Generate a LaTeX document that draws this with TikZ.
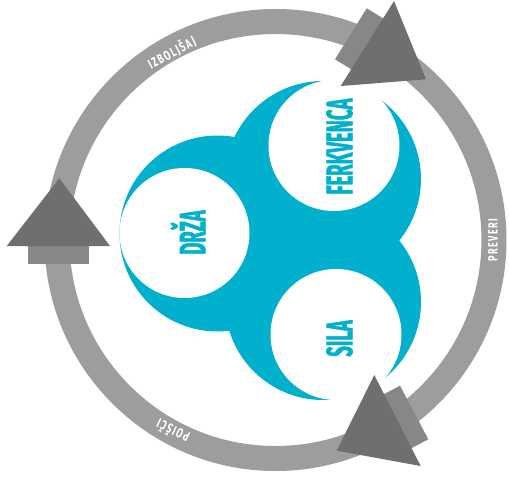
\documentclass[tikz,border=0pt]{standalone}
\usepackage{fontspec}
\newfontfamily\mainlab{Fira Sans}[FakeStretch=0.5,FakeBold=1.2]
\newfontfamily\ringlab{Fira Sans}[FakeStretch=0.68]
\newcommand\lsp{\hspace{1.4pt}}
\definecolor{teal}{HTML}{00B0CC}
\definecolor{ringgray}{HTML}{9D9D9C}
\definecolor{headgray}{HTML}{706F6E}
\definecolor{shaftgray}{HTML}{878786}
\tikzset{
  lobe/.style={fill=teal},
  hole/.style={fill=white},
  head/.style={fill=headgray},
  shaft/.style={fill=shaftgray},
  mainlabel/.style={text=teal,font=\mainlab\bfseries\fontsize{37}{37}\selectfont,rotate=90,inner sep=0pt},
  ringlabel/.style={text=white,font=\ringlab\bfseries\fontsize{13.5}{13.5}\selectfont,inner sep=0pt}
}
\begin{document}
\begin{tikzpicture}[x=1pt,y=-1pt]
\useasboundingbox (0,0) rectangle (509,477);
% teal lobes
\fill[lobe] (217.5,233.5) circle (98);
\fill[lobe] (323,179) circle (98);
\fill[lobe] (323,302) circle (98);
% white holes
\fill[hole] (184.5,233) circle (65);
\fill[hole] (334,145.5) circle (65.5);
\fill[hole] (336,334.5) circle (65.5);
% labels
\node[mainlabel] (drza) at (188,232.5) {DRŽA};
\node[mainlabel] (ferk) at (339.5,146.5) {FERKVENCA};
\node[mainlabel] (sila) at (339.5,338.5) {SILA};
% ring
\coordinate (rc) at (275.5,240);
\draw[ringgray,line width=25pt] (rc) circle (218.5);
% ring labels
\node[ringlabel,rotate=29] (izb) at (171.5,52.5) {I\lsp Z\lsp B\lsp O\lsp L\lsp J\lsp Š\lsp A\lsp J};
\node[ringlabel,rotate=90] (prev) at (493,240) {P\lsp R\lsp E\lsp V\lsp E\lsp R\lsp I};
\node[ringlabel,rotate=154] (pois) at (172.5,431.5) {P\lsp O\lsp I\lsp Š\lsp Č\lsp I};
% top-right arrow
\fill[shaft] (366.7,8.3) -- (335,59.3) -- (360.6,75) -- (392.3,24) -- cycle;
\fill[head] (394,1) -- (340.7,86) -- (426,79.3) -- cycle;
% left arrow
\fill[shaft] (28.3,230) rectangle (89.3,264.3);
\fill[head] (59.3,178.3) -- (6.7,246) -- (110,246) -- cycle;
% bottom arrow
\fill[shaft] (400,385.7) -- (428.3,439.3) -- (397.4,455.6) -- (369,402) -- cycle;
\fill[head] (374.3,375) -- (336.7,450.7) -- (420.7,466) -- cycle;
\end{tikzpicture}
\end{document}
